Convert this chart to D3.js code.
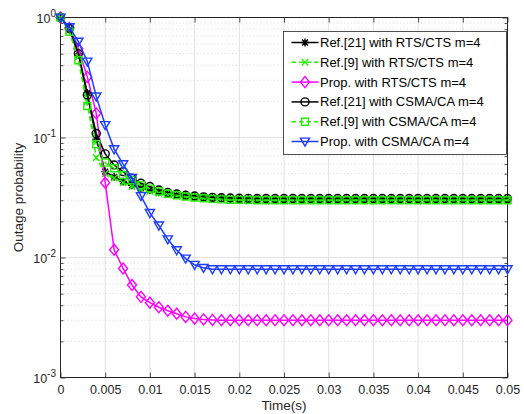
<!DOCTYPE html>
<html><head><meta charset="utf-8">
<script src="https://cdn.jsdelivr.net/npm/d3@7"></script>
<style>body{margin:0;background:#fff}svg{display:block}</style>
</head><body>
<svg id="c" width="524" height="414"></svg>
<script>
// ---- data ----
const timeStep = 0.001; // samples at 0,0.001,...,0.05
const xTicks = [0,0.005,0.01,0.015,0.02,0.025,0.03,0.035,0.04,0.045,0.05];
const xTickLabels = ["0","0.005","0.01","0.015","0.02","0.025","0.03","0.035","0.04","0.045","0.05"];
const yTickExps = [0,-1,-2,-3];

const ref21RTS = [1,0.80,0.50,0.235,0.097,0.052,0.047,0.043,0.040,0.038,0.0365,0.035,0.034,0.0333,0.0327,0.0322,0.0318,0.0315,0.0312,0.031,0.0308,0.0307,0.0306,0.0305,0.0305,0.0305,0.0305,0.0305,0.0305,0.0305,0.0305,0.0305,0.0305,0.0305,0.0305,0.0305,0.0305,0.0305,0.0305,0.0305,0.0305,0.0305,0.0305,0.0305,0.0305,0.0305,0.0305,0.0305,0.0305,0.0305,0.0305];
const ref9RTS  = [1,0.78,0.47,0.20,0.068,0.050,0.046,0.042,0.039,0.037,0.0355,0.0343,0.0333,0.0326,0.032,0.0315,0.0312,0.0309,0.0306,0.0304,0.0302,0.0301,0.030,0.030,0.030,0.030,0.030,0.030,0.030,0.030,0.030,0.030,0.030,0.030,0.030,0.030,0.030,0.030,0.030,0.030,0.030,0.030,0.030,0.030,0.030,0.030,0.030,0.030,0.030,0.030,0.030];
const propRTS  = [1,0.82,0.55,0.32,0.159,0.042,0.0116,0.0081,0.0059,0.0047,0.0042,0.00385,0.0036,0.0034,0.0032,0.0031,0.00305,0.00302,0.003,0.003,0.003,0.003,0.003,0.003,0.003,0.003,0.003,0.003,0.003,0.003,0.003,0.003,0.003,0.003,0.003,0.003,0.003,0.003,0.003,0.003,0.003,0.003,0.003,0.003,0.003,0.003,0.003,0.003,0.003,0.003,0.003];
const ref21CSMA= [1,0.81,0.50,0.226,0.108,0.073,0.059,0.052,0.0457,0.0416,0.039,0.0365,0.0348,0.0338,0.033,0.0325,0.032,0.0317,0.0315,0.0313,0.0312,0.0311,0.031,0.031,0.031,0.031,0.031,0.031,0.031,0.031,0.031,0.031,0.031,0.031,0.031,0.031,0.031,0.031,0.031,0.031,0.031,0.031,0.031,0.031,0.031,0.031,0.031,0.031,0.031,0.031,0.031];
const ref9CSMA = [1,0.76,0.44,0.183,0.088,0.0617,0.0554,0.0487,0.044,0.040,0.0375,0.0355,0.034,0.033,0.0322,0.0316,0.0312,0.0308,0.0305,0.0303,0.0302,0.0301,0.030,0.030,0.030,0.030,0.030,0.030,0.030,0.030,0.030,0.030,0.030,0.030,0.030,0.030,0.030,0.030,0.030,0.030,0.030,0.030,0.030,0.030,0.030,0.030,0.030,0.030,0.030,0.030,0.030];
const propCSMA = [1,0.83,0.63,0.43,0.22,0.127,0.080,0.060,0.046,0.0325,0.0235,0.0185,0.0142,0.0115,0.0098,0.0087,0.0082,0.0080,0.008,0.008,0.008,0.008,0.008,0.008,0.008,0.008,0.008,0.008,0.008,0.008,0.008,0.008,0.008,0.008,0.008,0.008,0.008,0.008,0.008,0.008,0.008,0.008,0.008,0.008,0.008,0.008,0.008,0.008,0.008,0.008,0.008];

const seriesNames = ["Ref.[21] with RTS/CTS m=4","Ref.[9] with RTS/CTS m=4","Prop. with RTS/CTS m=4","Ref.[21] with CSMA/CA m=4","Ref.[9] with CSMA/CA m=4","Prop. with CSMA/CA m=4"];
const seriesValues = [ref21RTS, ref9RTS, propRTS, ref21CSMA, ref9CSMA, propCSMA];
const seriesColors = ["#000000","#22ee00","#ff00ff","#000000","#22ee00","#1a3cff"];
const seriesDash = [null,"5,3",null,null,"5,3",null];
const seriesMarker = ["asterisk","x","diamond","circle","square","triangleDown"];

// ---- layout ----
const svg = d3.select("#c");
const L=60.5, R=507.5, T=17.5, B=377.5;
const x = d3.scaleLinear([0,0.05],[L,R]);
const y = d3.scaleLog([1e-3,1],[B,T]);
const axisColor = "#262626";
const font = "'Liberation Sans', Arial, Helvetica, sans-serif";

// grid
const g = svg.append("g");
const minorVals = [];
yTickExps.slice(0,3).forEach(e=>{ for(let k=2;k<=9;k++) minorVals.push(k*Math.pow(10,e-1)); });
g.selectAll(".ymin").data(minorVals).enter().append("line")
  .attr("x1",L).attr("x2",R).attr("y1",d=>y(d)).attr("y2",d=>y(d))
  .attr("stroke","#cfcfcf").attr("stroke-width",0.8).attr("stroke-dasharray","1,2.5");
g.selectAll(".xg").data(xTicks.slice(1,-1)).enter().append("line")
  .attr("x1",d=>x(d)).attr("x2",d=>x(d)).attr("y1",T).attr("y2",B)
  .attr("stroke","#e2e2e2").attr("stroke-width",1);
g.selectAll(".yg").data(yTickExps.slice(1,-1)).enter().append("line")
  .attr("x1",L).attr("x2",R).attr("y1",d=>y(Math.pow(10,d))).attr("y2",d=>y(Math.pow(10,d)))
  .attr("stroke","#e2e2e2").attr("stroke-width",1);

// axes via d3 axis (ticks inward)
const xAxisB = d3.axisBottom(x).tickValues(xTicks).tickSize(-5).tickFormat((d,i)=>xTickLabels[i]).tickPadding(8);
const gxB = svg.append("g").attr("transform",`translate(0,${B})`).call(xAxisB);
const xAxisT = d3.axisTop(x).tickValues(xTicks).tickSize(-5).tickFormat("");
const gxT = svg.append("g").attr("transform",`translate(0,${T})`).call(xAxisT);
const majorY = yTickExps.map(e=>Math.pow(10,e));
const yAxisL = d3.axisLeft(y).tickValues(majorY).tickSize(-5).tickFormat("");
const gyL = svg.append("g").attr("transform",`translate(${L},0)`).call(yAxisL);
const yAxisR = d3.axisRight(y).tickValues(majorY).tickSize(-5).tickFormat("");
const gyR = svg.append("g").attr("transform",`translate(${R},0)`).call(yAxisR);
const yMinL = d3.axisLeft(y).tickValues(minorVals).tickSize(-3).tickFormat("");
const gyML = svg.append("g").attr("transform",`translate(${L},0)`).call(yMinL);
const yMinR = d3.axisRight(y).tickValues(minorVals).tickSize(-3).tickFormat("");
const gyMR = svg.append("g").attr("transform",`translate(${R},0)`).call(yMinR);
[gxB,gxT,gyL,gyR,gyML,gyMR].forEach(a=>{
  a.select(".domain").remove();
  a.selectAll("line").attr("stroke",axisColor).attr("stroke-width",0.8);
});
gxB.selectAll("text").attr("fill",axisColor).style("font-family",font).style("font-size","12.5px");
// frame
svg.append("rect").attr("x",L).attr("y",T).attr("width",R-L).attr("height",B-T)
  .attr("fill","none").attr("stroke",axisColor).attr("stroke-width",1);

// y tick labels 10^e
yTickExps.forEach(e=>{
  const t = svg.append("text").attr("x",56).attr("y",y(Math.pow(10,e))+5)
    .attr("text-anchor","end").attr("fill",axisColor).style("font-family",font).style("font-size","12.5px");
  t.append("tspan").text("10");
  t.append("tspan").attr("dy",-6).style("font-size","10px").text(String(e));
});

// axis labels
svg.append("text").attr("x",(L+R)/2).attr("y",409.5).attr("text-anchor","middle")
  .attr("fill",axisColor).style("font-family",font).style("font-size","13.5px").text("Time(s)");
svg.append("text").attr("transform",`translate(23,${(T+B)/2}) rotate(-90)`).attr("text-anchor","middle")
  .attr("fill",axisColor).style("font-family",font).style("font-size","13.5px").text("Outage probability");

// markers
function markerPath(type){
  switch(type){
    case "asterisk": { const s=4, c=2.9; return `M${-s},0L${s},0M0,${-s}L0,${s}M${-c},${-c}L${c},${c}M${-c},${c}L${c},${-c}`; }
    case "x": return "M-3.3,-3.3L3.3,3.3M-3.3,3.3L3.3,-3.3";
    case "diamond": return "M0,-5.5L4.5,0L0,5.5L-4.5,0Z";
    case "circle": return "M4,0A4,4 0 1,1 -4,0A4,4 0 1,1 4,0Z";
    case "square": return "M-3.5,-3.5L3.5,-3.5L3.5,3.5L-3.5,3.5Z";
    case "triangleDown": return "M-4.6,-3.4L4.6,-3.4L0,4.6Z";
  }
}

const line = d3.line().x((d,i)=>x(i*timeStep)).y(d=>y(d));
const plot = svg.append("g");
seriesValues.forEach((vals,k)=>{
  const sg = plot.append("g");
  sg.append("path").datum(vals).attr("d",line).attr("fill","none")
    .attr("stroke",seriesColors[k]).attr("stroke-width",1.5)
    .attr("stroke-dasharray",seriesDash[k]);
  sg.selectAll("path.m").data(vals).enter().append("path").attr("class","m")
    .attr("transform",(d,i)=>`translate(${x(i*timeStep)},${y(d)})`)
    .attr("d",markerPath(seriesMarker[k])).attr("fill","none")
    .attr("stroke",seriesColors[k]).attr("stroke-width",1.4);
});

// legend
const lg = svg.append("g");
const LX=283.5, LY=31.5, LW=223, LH=123, rowH=19.8;
lg.append("rect").attr("x",LX).attr("y",LY).attr("width",LW).attr("height",LH)
  .attr("fill","#fff").attr("stroke","#262626").attr("stroke-width",0.8);
seriesNames.forEach((name,k)=>{
  const cy = LY+11+k*rowH;
  lg.append("line").attr("x1",291.5).attr("x2",318.5).attr("y1",cy).attr("y2",cy)
    .attr("stroke",seriesColors[k]).attr("stroke-width",1.5).attr("stroke-dasharray",seriesDash[k]?"4.5,3":null);
  lg.append("path").attr("transform",`translate(305,${cy})`).attr("d",markerPath(seriesMarker[k]))
    .attr("fill","none").attr("stroke",seriesColors[k]).attr("stroke-width",1.4);
  lg.append("text").attr("x",320).attr("y",cy+4.5).attr("fill","#000")
    .style("font-family",font).style("font-size","13px").text(name);
});
</script>
</body></html>
